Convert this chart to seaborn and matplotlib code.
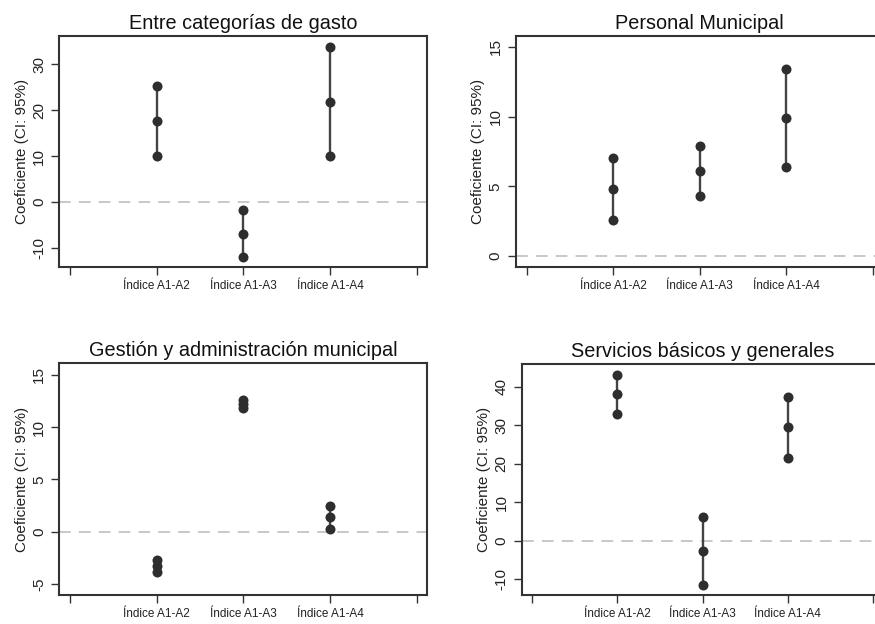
import numpy as np
import pandas as pd
import matplotlib
matplotlib.use("Agg")
import matplotlib.pyplot as plt
import seaborn as sns

sns.set_style("white")
plt.rcParams["font.family"] = ["Liberation Sans", "DejaVu Sans"]

# ---------------- data ----------------
categories = ["Índice A1-A2", "Índice A1-A3", "Índice A1-A4"]
titles = ["Entre categorías de gasto", "Personal Municipal",
          "Gestión y administración municipal", "Servicios básicos y generales"]

gasto_low = [10.0, -11.9, 10.0]
gasto_coef = [17.6, -6.9, 21.8]
gasto_high = [25.3, -1.8, 33.7]

personal_low = [2.6, 4.3, 6.4]
personal_coef = [4.8, 6.1, 9.9]
personal_high = [7.0, 7.9, 13.4]

gestion_low = [-3.9, 11.8, 0.3]
gestion_coef = [-3.3, 12.2, 1.4]
gestion_high = [-2.7, 12.6, 2.5]

servicios_low = [33.0, -11.5, 21.5]
servicios_coef = [38.0, -2.7, 29.4]
servicios_high = [43.1, 6.1, 37.3]

yticks_gasto = [-10, 0, 10, 20, 30]
yticks_personal = [0, 5, 10, 15]
yticks_gestion = [-5, 0, 5, 10, 15]
yticks_servicios = [-10, 0, 10, 20, 30, 40]

ylabel = "Coeficiente (CI: 95%)"

panels = [
    (titles[0], gasto_low, gasto_coef, gasto_high, yticks_gasto, (-14.1, 36.1),
     [0.0678, 0.5721, 0.4202, 0.3702]),
    (titles[1], personal_low, personal_coef, personal_high, yticks_personal, (-0.77, 15.8),
     [0.5894, 0.5726, 0.4198, 0.3702]),
    (titles[2], gestion_low, gestion_coef, gestion_high, yticks_gestion, (-6.08, 16.1),
     [0.0678, 0.0460, 0.4202, 0.3718]),
    (titles[3], servicios_low, servicios_coef, servicios_high, yticks_servicios, (-14.2, 45.8),
     [0.5962, 0.0460, 0.4129, 0.3702]),
]

fig = plt.figure(figsize=(8.75, 6.24), dpi=100)
fig.patch.set_facecolor("white")

dark = "#2e2e2e"
for title, low, coef, high, yt, ylim, rect in panels:
    ax = fig.add_axes(rect)
    pos = np.arange(1, len(categories) + 1)
    df = pd.DataFrame({
        "pos": np.repeat(pos, 3),
        "value": np.ravel(np.column_stack([low, coef, high])),
        "cat": np.repeat(categories, 3),
    })
    ax.axhline(0, color="#c4c4c4", lw=1.3, ls=(0, (6.5, 4.5)), zorder=0)
    sns.lineplot(data=df, x="pos", y="value", units="cat", estimator=None, sort=False,
                 color="#444444", lw=1.7, marker="o", markersize=7.2,
                 markeredgewidth=0, markerfacecolor=dark, ax=ax, legend=False)
    ax.set_xlim(-0.125, 4.12)
    ax.set_ylim(*ylim)
    ax.set_xticks([0, 1, 2, 3, 4])
    ax.set_xticklabels([""] + categories + [""], fontsize=8.5, color="#222222")
    ax.set_yticks(yt)
    ax.set_yticklabels([str(v) for v in yt], fontsize=11, color="#222222",
                       rotation=90, va="center")
    ax.tick_params(axis="both", direction="out", length=5.5, width=1.0, color="#333333",
                   left=True, bottom=True)
    ax.tick_params(axis="x", pad=4)
    ax.tick_params(axis="y", pad=4)
    ax.set_xlabel("")
    ax.set_ylabel(ylabel, fontsize=11, color="#222222", labelpad=2.5)
    ax.set_title(title, fontsize=14.3, color="#111111", pad=5)
    for s in ax.spines.values():
        s.set_visible(True)
        s.set_color("#333333")
        s.set_linewidth(1.5)

fig.savefig("out.png", dpi=100, facecolor="white")
